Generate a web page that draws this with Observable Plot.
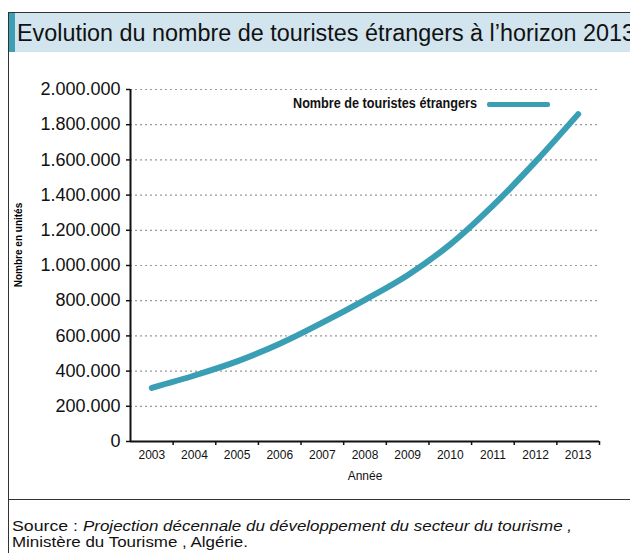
<!DOCTYPE html>
<html><head><meta charset="utf-8">
<script src="https://cdn.jsdelivr.net/npm/d3@7"></script>
<script src="https://cdn.jsdelivr.net/npm/@observablehq/plot@0.6"></script>
<style>
body{margin:0;background:#fff;width:630px;height:553px;overflow:hidden;position:relative;font-family:"Liberation Sans",Arial,sans-serif;}
.abs{position:absolute;}
#box{left:8px;top:12px;width:700px;height:600px;border:1.5px solid #333;box-sizing:border-box;}
#titlebar{left:9px;top:13px;width:640px;height:39px;background:#d2e5ee;}
#accent{left:9px;top:13px;width:6px;height:39px;background:#3d9fb3;}
#sep{left:8px;top:499px;width:640px;height:0;border-top:1.5px solid #333;}
#title{left:17px;top:12px;}
#ylab{left:18px;top:245px;transform:translate(-50%,-50%) rotate(-90deg);font-size:10px;font-weight:bold;white-space:nowrap;}
#legsw{left:487px;top:102px;width:63px;height:5px;background:#3a9fb4;border-radius:2px;}
#chart{left:0;top:60px;}
</style></head>
<body>
<div class="abs" id="box"></div>
<div class="abs" id="titlebar"></div>
<div class="abs" id="accent"></div>
<div class="abs" id="sep"></div>
<svg class="abs" id="title" width="640" height="40"><text x="0" y="29" font-family="Liberation Sans, Arial, sans-serif" font-size="23" fill="#111" textLength="618" lengthAdjust="spacingAndGlyphs">Evolution du nombre de touristes étrangers à l’horizon 2013</text></svg>
<div class="abs" id="chart"></div>
<div class="abs" id="ylab">Nombre en unités</div>
<svg class="abs" style="left:0;top:0" width="630" height="130"><text x="293" y="108" font-family="Liberation Sans, Arial, sans-serif" font-weight="bold" font-size="14" fill="#111" textLength="184" lengthAdjust="spacingAndGlyphs">Nombre de touristes étrangers</text></svg>
<div class="abs" id="legsw"></div>
<svg class="abs" style="left:0;top:505px" width="630" height="48" font-family="Liberation Sans, Arial, sans-serif" font-size="15" fill="#111">
<text x="12" y="26" textLength="66" lengthAdjust="spacingAndGlyphs">Source :</text>
<text x="83" y="26" font-style="italic" textLength="489" lengthAdjust="spacingAndGlyphs">Projection décennale du développement du secteur du tourisme ,</text>
<text x="12" y="42" textLength="236" lengthAdjust="spacingAndGlyphs">Ministère du Tourisme , Algérie.</text>
</svg>
<script>
const years = [2003,2004,2005,2006,2007,2008,2009,2010,2011,2012,2013];
const touristes = [305000,375000,455000,555000,675000,805000,945000,1120000,1340000,1590000,1860000];
const yTicks = [0,200000,400000,600000,800000,1000000,1200000,1400000,1600000,1800000,2000000];
const seriesName = "Nombre de touristes étrangers";

const data = years.map((y,i)=>({year:y,value:touristes[i]}));
const xDomain = [years[0]-0.5, years[years.length-1]+0.5];
const bounds = years.map(y=>y+0.5);
const fmt = d => d3.format(",")(d).replace(/,/g,".");

const chart = Plot.plot({
  width:630, height:440,
  marginLeft:130, marginRight:31, marginTop:29, marginBottom:59,
  style:{background:"transparent", color:"#111", fontFamily:"Liberation Sans, Arial, sans-serif"},
  x:{domain:xDomain},
  y:{domain:[0,2000000]},
  marks:[
    Plot.gridY(yTicks.slice(1), {stroke:"#999", strokeOpacity:1, strokeDasharray:"2,3", strokeWidth:1.2}),
    Plot.axisY({ticks:yTicks, tickSize:4, tickPadding:6, tickFormat:fmt, fontSize:18, letterSpacing:-0.3, label:null, strokeWidth:1.5}),
    Plot.axisX({ticks:bounds, tickSize:4, tickFormat:()=>"", label:null, strokeWidth:1.5}),
    Plot.axisX({ticks:years, tickSize:0, tickPadding:9, tickFormat:d=>String(d), fontSize:12, letterSpacing:-0.6, label:"Année", labelAnchor:"center", labelArrow:"none", labelOffset:38}),
    Plot.ruleY([0], {stroke:"#111", strokeWidth:2}),
    Plot.ruleX([xDomain[0]], {stroke:"#111", strokeWidth:2}),
    Plot.line(data, {x:"year", y:"value", stroke:"#3a9fb4", strokeWidth:6, curve:"catmull-rom", title:()=>seriesName})
  ]
});
document.getElementById("chart").appendChild(chart);
</script>
</body></html>
